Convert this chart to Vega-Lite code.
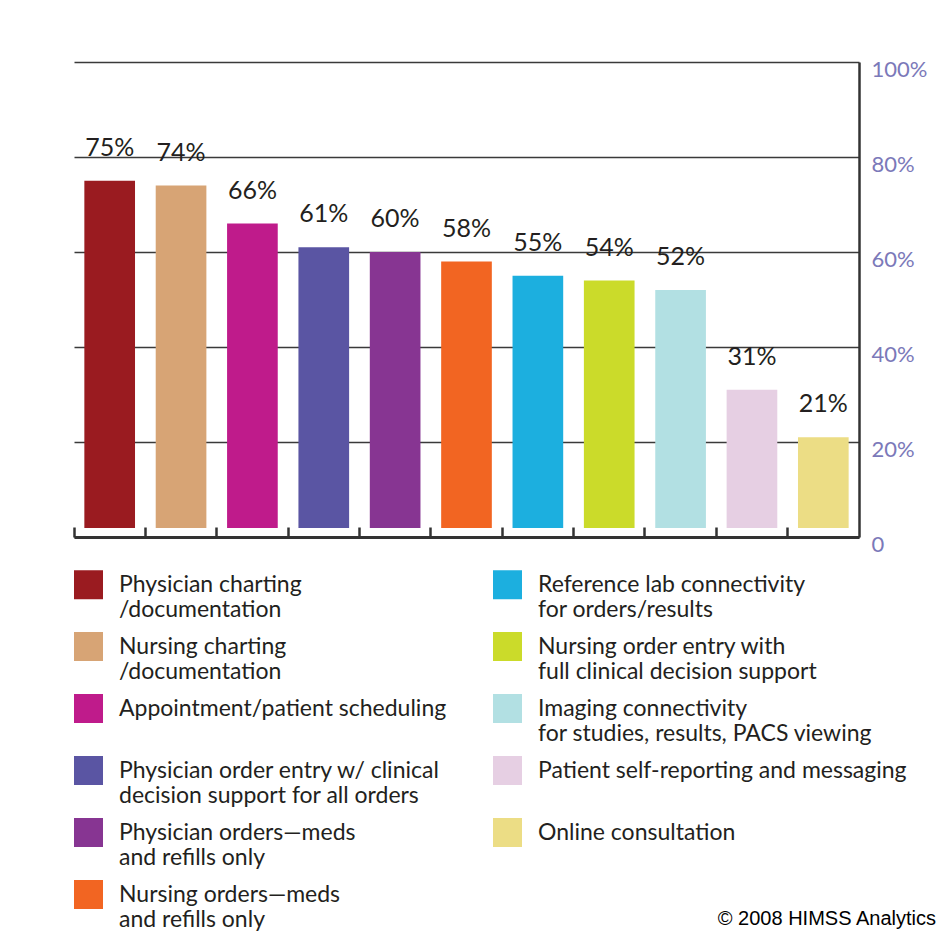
{
  "$schema": "https://vega.github.io/schema/vega-lite/v6.json",
  "width": 785,
  "height": 475,
  "padding": {"left": 72, "top": 58, "right": 0, "bottom": 0},
  "background": "white",
  "title": {"text": "© 2008 HIMSS Analytics", "orient": "bottom", "anchor": "end", "frame": "group", "font": "Liberation Sans", "fontSize": 20, "fontWeight": "normal", "color": "#000000", "offset": -23, "dx": 77},
  "data": {"values": [
    {"item": "Physician charting|/documentation", "pct": 0.75},
    {"item": "Nursing charting|/documentation", "pct": 0.74},
    {"item": "Appointment/patient scheduling", "pct": 0.66},
    {"item": "Physician order entry w/ clinical|decision support for all orders", "pct": 0.61},
    {"item": "Physician orders—meds|and refills only", "pct": 0.60},
    {"item": "Nursing orders—meds|and refills only", "pct": 0.58},
    {"item": "Reference lab connectivity|for orders/results", "pct": 0.55},
    {"item": "Nursing order entry with|full clinical decision support", "pct": 0.54},
    {"item": "Imaging connectivity|for studies, results, PACS viewing", "pct": 0.52},
    {"item": "Patient self-reporting and messaging", "pct": 0.31},
    {"item": "Online consultation", "pct": 0.21}
  ]},
  "encoding": {
    "x": {"field": "item", "type": "nominal", "sort": null,
      "scale": {"paddingInner": 0, "paddingOuter": 0},
      "axis": {"title": null, "labels": false, "bandPosition": 0, "domainColor": "#333333", "domainWidth": 3, "tickColor": "#333333", "tickWidth": 2.5, "tickSize": -10}},
    "y": {"field": "pct", "type": "quantitative",
      "scale": {"domain": [0, 1], "nice": false},
      "axis": {"orient": "right", "title": null, "values": [0, 0.2, 0.4, 0.6, 0.8, 1], "format": ".0%", "labelExpr": "datum.value == 0 ? '0' : datum.label", "ticks": false, "domainColor": "#333333", "domainWidth": 2.5, "grid": true, "gridColor": "#3a3a3a", "gridWidth": 1.3, "labelColor": "#7b79b9", "labelFont": "Lato", "labelFontSize": 22, "labelPadding": 12, "labelOffset": 7}}
  },
  "layer": [
    {"mark": {"type": "bar", "width": {"band": 0.71}},
      "encoding": {
        "y2": {"datum": 0.019},
        "color": {"field": "item", "type": "nominal",
          "scale": {
            "domain": ["Physician charting|/documentation", "Nursing charting|/documentation", "Appointment/patient scheduling", "Physician order entry w/ clinical|decision support for all orders", "Physician orders—meds|and refills only", "Nursing orders—meds|and refills only", "Reference lab connectivity|for orders/results", "Nursing order entry with|full clinical decision support", "Imaging connectivity|for studies, results, PACS viewing", "Patient self-reporting and messaging", "Online consultation"],
            "range": ["#9a1b20", "#d7a475", "#bf1b8b", "#5a55a3", "#873592", "#f26522", "#1cafdf", "#cbdb2a", "#b2e0e3", "#e6cfe3", "#ecdd85"]},
          "legend": {
            "title": null,
            "orient": "bottom",
            "direction": "vertical",
            "columns": 2,
            "labelExpr": "split(datum.label, '|')",
            "symbolType": "square",
            "symbolSize": 841,
            "symbolStrokeWidth": 0,
            "symbolOpacity": 1,
            "labelFont": "Lato",
            "labelFontSize": 23,
            "labelColor": "#231f20",
            "labelLimit": 420,
            "labelOffset": 16,
            "rowPadding": 10,
            "columnPadding": 46,
            "offset": 31,
            "padding": 0
          }
        }
      }
    },
    {"mark": {"type": "text", "baseline": "middle", "dy": -33, "font": "Lato", "fontSize": 25, "color": "#231f20"},
      "encoding": {"text": {"field": "pct", "type": "quantitative", "format": ".0%"}}}
  ],
  "config": {"view": {"stroke": null}}
}
